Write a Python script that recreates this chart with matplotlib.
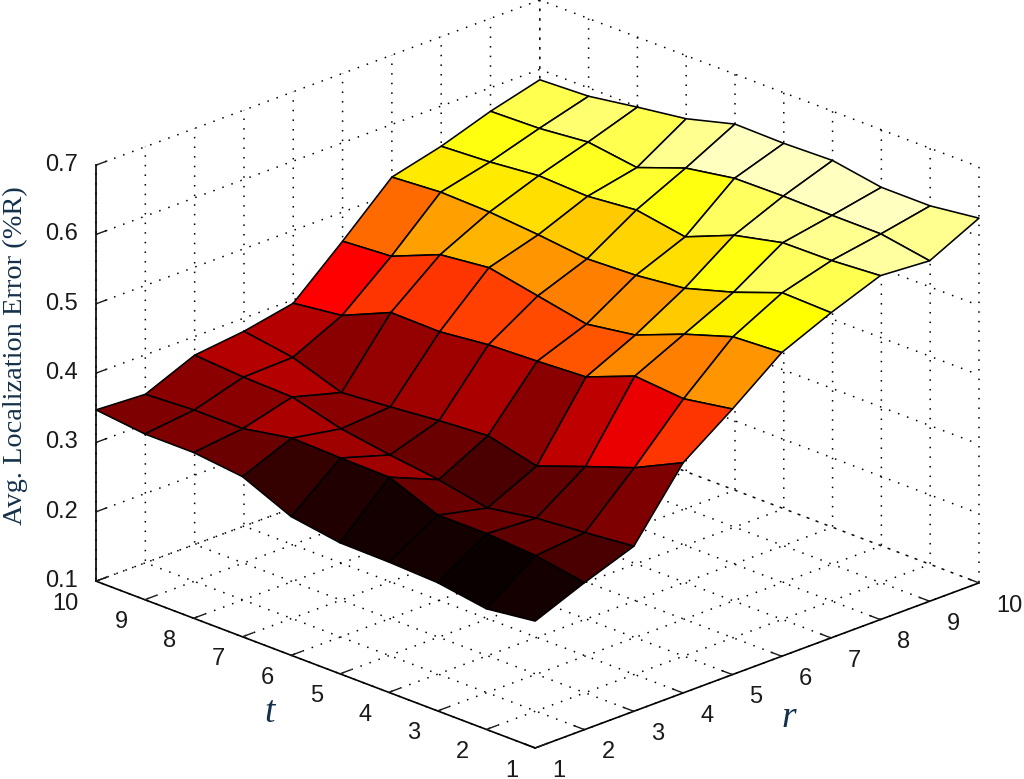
import numpy as np
import matplotlib
matplotlib.use('Agg')
import matplotlib.pyplot as plt
from mpl_toolkits.mplot3d import Axes3D

r_vals = [1, 2, 3, 4, 5, 6, 7, 8, 9, 10]
t_vals = [1, 2, 3, 4, 5, 6, 7, 8, 9, 10]
z_ticks = [0.1, 0.2, 0.3, 0.4, 0.5, 0.6, 0.7]

# error, one list per t, r = 1..10
err_t1 = [0.283, 0.312, 0.338, 0.432, 0.483, 0.538, 0.569, 0.596, 0.591, 0.626]
err_t2 = [0.274, 0.324, 0.331, 0.398, 0.471, 0.534, 0.571, 0.591, 0.603, 0.617]
err_t3 = [0.285, 0.329, 0.325, 0.373, 0.477, 0.511, 0.545, 0.590, 0.603, 0.617]
err_t4 = [0.288, 0.329, 0.313, 0.347, 0.449, 0.483, 0.524, 0.574, 0.604, 0.629]
err_t5 = [0.289, 0.357, 0.327, 0.364, 0.445, 0.472, 0.516, 0.545, 0.603, 0.627]
err_t6 = [0.300, 0.358, 0.336, 0.359, 0.442, 0.486, 0.513, 0.557, 0.591, 0.628]
err_t7 = [0.331, 0.360, 0.347, 0.352, 0.434, 0.500, 0.521, 0.550, 0.565, 0.609]
err_t8 = [0.339, 0.347, 0.366, 0.346, 0.435, 0.492, 0.527, 0.553, 0.575, 0.599]
err_t9 = [0.339, 0.347, 0.368, 0.370, 0.404, 0.463, 0.529, 0.546, 0.568, 0.588]
err_t10 = [0.347, 0.343, 0.373, 0.381, 0.395, 0.458, 0.524, 0.542, 0.566, 0.585]

Z = np.array([err_t1, err_t2, err_t3, err_t4, err_t5,
              err_t6, err_t7, err_t8, err_t9, err_t10])
R, T = np.meshgrid(r_vals, t_vals)

W, H = 1024, 779
fig = plt.figure(figsize=(W / 100, H / 100), dpi=100, facecolor='white')
ax = fig.add_subplot(111, projection='3d', proj_type='ortho', facecolor='none')

# square axes, sized so the box lands on the reference corners
side = 961.6
ax.set_position([43.7 / W, -88.8 / H, side / W, side / H])
ax.view_init(elev=22.08, azim=-134.7)
ax.set_box_aspect((624.4, 624.4, 449.0))

# colour limits, a bit inside the data range
clim = (0.277, 0.63)
colors = plt.get_cmap('hot', 64)(np.clip((Z - clim[0]) / (clim[1] - clim[0]), 0, 1))
ax.plot_surface(R, T, Z, rstride=1, cstride=1, facecolors=colors, shade=False,
                edgecolor='k', linewidth=1.15, antialiased=True)

ax.set_xlim(1, 10, view_margin=0)
ax.set_ylim(1, 10, view_margin=0)
ax.set_zlim(0.1, 0.7, view_margin=0)
ax.set_xticks(r_vals)
ax.set_yticks(t_vals)
ax.set_zticks(z_ticks)
ax.set_zticklabels(['%.1f' % v for v in z_ticks])

for axis in (ax.xaxis, ax.yaxis, ax.zaxis):
    axis.set_pane_color((1, 1, 1, 0))
    axis.pane.set_edgecolor('none')
    axis.line.set_color('k')
    axis.line.set_linewidth(1.2)
    axis._axinfo['grid'].update(color='k', linewidth=1.1, linestyle=(0, (1, 5.3)))
    axis._axinfo['tick'].update(inward_factor=0.0, outward_factor=0.3, linewidth={True: 1.0, False: 1.0})
    axis.set_tick_params(labelsize=17, colors='#1a1a1a', pad=6)
    for lab in axis.get_ticklabels():
        lab.set_fontfamily('Liberation Sans')
        lab.set_va('center')

# labels sit away from the ticks like in matlab
for lab in ax.xaxis.get_ticklabels():
    lab.set_ha('left')
for lab in ax.yaxis.get_ticklabels():
    lab.set_ha('right')

fig.text(15 / W, 1 - 356 / H, 'Avg. Localization Error (%R)', rotation=90, ha='center', va='center',
         fontsize=20.4, family='Liberation Serif', color='#14304a')
fig.text(270 / W, 1 - 713 / H, 't', ha='center', va='center', fontsize=27, style='italic',
         family='Liberation Serif', color='#14304a')
fig.text(789 / W, 1 - 718 / H, 'r', ha='center', va='center', fontsize=27, style='italic',
         family='Liberation Serif', color='#14304a')

fig.savefig('out.png', dpi=100)
